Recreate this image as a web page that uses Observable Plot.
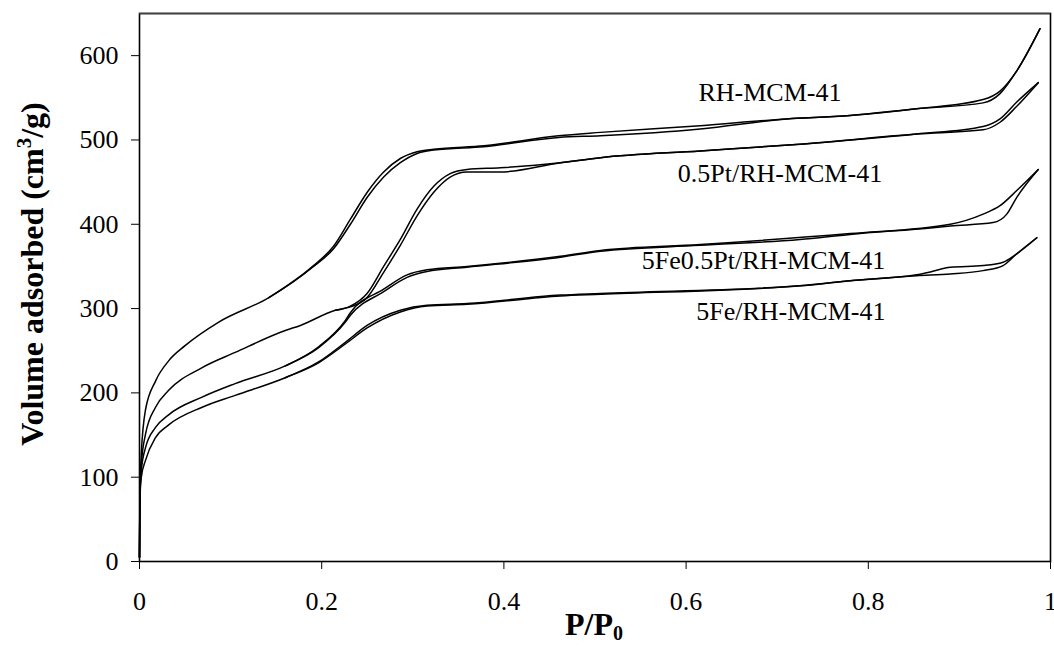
<!DOCTYPE html>
<html><head><meta charset="utf-8">
<script src="https://cdn.jsdelivr.net/npm/d3@7"></script>
<script src="https://cdn.jsdelivr.net/npm/@observablehq/plot@0.6"></script>
<style>body{margin:0;background:#fff} svg{display:block}</style>
</head><body><div id="chart"></div>
<script>
// ---- data (N2 isotherms; adsorption + desorption branches) ----
const sampleNames = ["RH-MCM-41", "0.5Pt/RH-MCM-41", "5Fe0.5Pt/RH-MCM-41", "5Fe/RH-MCM-41"];

const rhAdsX = [0, 0.0003, 0.001, 0.002, 0.0066, 0.0176, 0.032, 0.05, 0.087, 0.142, 0.19, 0.213, 0.2315, 0.25, 0.268, 0.2863, 0.3047, 0.323, 0.378, 0.46, 0.506, 0.6155, 0.71, 0.78, 0.853, 0.926, 0.9446, 0.963, 0.9885];
const rhAdsY = [5, 60, 100, 128, 180, 214, 238, 256, 284, 313, 349, 371, 400, 432, 456, 473, 484, 488, 492, 503, 505, 513, 525, 529, 537, 544, 555, 582, 632];
const rhDesX = [0.9885, 0.963, 0.9446, 0.926, 0.853, 0.78, 0.71, 0.6155, 0.506, 0.46, 0.378, 0.323, 0.3047, 0.2863, 0.268, 0.25, 0.2315, 0.213, 0.19, 0.142];
const rhDesY = [632, 582, 558, 548, 537, 529, 525, 517, 509, 505, 493, 489, 486, 478, 462, 438, 406, 374, 350, 313];

const ptAdsX = [0, 0.0003, 0.001, 0.002, 0.0066, 0.0176, 0.032, 0.0688, 0.105, 0.16, 0.1766, 0.215, 0.2315, 0.2498, 0.268, 0.2863, 0.3047, 0.323, 0.341, 0.3595, 0.396, 0.462, 0.506, 0.6155, 0.725, 0.853, 0.926, 0.9446, 0.963, 0.9866];
const ptAdsY = [5, 55, 95, 115, 151, 183, 203, 230, 248, 274, 280, 298, 302, 313, 343, 375, 410, 438, 456, 462, 462, 473, 479, 487, 495, 507, 512, 521, 540, 568];
const ptDesX = [0.9866, 0.963, 0.9446, 0.926, 0.853, 0.725, 0.6155, 0.506, 0.462, 0.396, 0.3595, 0.341, 0.323, 0.3047, 0.2863, 0.268, 0.2498, 0.2315, 0.215];
const ptDesY = [568, 545, 525, 516, 507, 495, 487, 479, 473, 467, 465, 460, 445, 418, 382, 350, 318, 303, 298];

const fePtAdsX = [0, 0.0003, 0.001, 0.002, 0.0066, 0.0176, 0.032, 0.0688, 0.105, 0.16, 0.197, 0.226, 0.2315, 0.268, 0.2937, 0.3156, 0.3595, 0.462, 0.506, 0.6155, 0.725, 0.78, 0.871, 0.89, 0.937, 0.952, 0.963, 0.9866];
const fePtAdsY = [5, 52, 92, 108, 135, 159, 174, 195, 211, 232, 254, 284, 292, 320, 337, 344, 349, 361, 368, 375, 382, 388, 396, 398, 402, 412, 432, 465];
const fePtDesX = [0.9866, 0.963, 0.9446, 0.926, 0.89, 0.78, 0.6155, 0.506, 0.462, 0.3595, 0.3156, 0.2937, 0.268, 0.2315, 0.226, 0.197, 0.16];
const fePtDesY = [465, 440, 422, 412, 400, 389, 376, 369, 362, 350, 346, 340, 323, 295, 286, 255, 232];

const feAdsX = [0, 0.0003, 0.001, 0.002, 0.0066, 0.0176, 0.032, 0.0688, 0.105, 0.16, 0.197, 0.226, 0.2498, 0.2863, 0.3156, 0.3595, 0.462, 0.506, 0.725, 0.78, 0.853, 0.89, 0.926, 0.948, 0.963, 0.985];
const feAdsY = [5, 50, 88, 100, 120, 147, 162, 183, 197, 218, 236, 258, 277, 296, 303, 305, 315, 317, 327, 333, 339, 341, 345, 351, 365, 384];
const feDesX = [0.985, 0.963, 0.948, 0.926, 0.89, 0.87, 0.853, 0.78, 0.725, 0.506, 0.462, 0.3595, 0.3156, 0.2863, 0.2498, 0.226, 0.197, 0.16];
const feDesY = [384, 365, 355, 351, 349, 344, 340, 333, 327, 318, 316, 306, 304, 298, 280, 260, 237, 218];

const labelX = [0.692, 0.703, 0.685, 0.715];
const labelY = [556, 460, 357, 296];

const xTicks = [0, 0.2, 0.4, 0.6, 0.8, 1];
const xTickLabels = ["0", "0.2", "0.4", "0.6", "0.8", "1"];
const yTicks = [0, 100, 200, 300, 400, 500, 600];

// ---- build table ----
const branches = [
  [sampleNames[0], "ads", rhAdsX, rhAdsY], [sampleNames[0], "des", rhDesX, rhDesY],
  [sampleNames[1], "ads", ptAdsX, ptAdsY], [sampleNames[1], "des", ptDesX, ptDesY],
  [sampleNames[2], "ads", fePtAdsX, fePtAdsY], [sampleNames[2], "des", fePtDesX, fePtDesY],
  [sampleNames[3], "ads", feAdsX, feAdsY], [sampleNames[3], "des", feDesX, feDesY]
];
const rows = [];
for (const [s, b, xs, ys] of branches) {
  const pts = xs.map((x, i) => ({key: s + "|" + b, x, y: ys[i]})).sort((a, c) => a.x - c.x);
  rows.push(...pts);
}
const labels = sampleNames.map((n, i) => ({n, x: labelX[i], y: labelY[i]}));

const serif = "'Liberation Serif', 'Times New Roman', Times, serif";

const svg = Plot.plot({
  width: 1054, height: 646,
  marginLeft: 139, marginRight: 4, marginTop: 13, marginBottom: 85,
  style: {fontFamily: serif, fontSize: "26px", color: "black", background: "white", overflow: "visible"},
  x: {domain: [0, 1]},
  y: {domain: [0, 650]},
  marks: [
    Plot.axisX({ticks: xTicks, tickFormat: (d, i) => xTickLabels[i], tickSize: 8, tickPadding: 22, label: null, fontSize: 26}),
    Plot.axisY({ticks: yTicks, tickSize: 8, tickPadding: 13, label: null, fontSize: 26}),
    Plot.line(rows, {x: "x", y: "y", z: "key", curve: "monotone-x", stroke: "black", strokeWidth: 1.5}),
    Plot.text(labels, {x: "x", y: "y", text: "n", fontSize: 26, fill: "black", textAnchor: "middle", lineAnchor: "middle"}),
    Plot.frame({stroke: "black", strokeWidth: 1.6}),
    Plot.ruleY([650], {stroke: "#444", strokeWidth: 1.6})
  ]
});

const s = d3.select(svg);
const yt = s.append("text")
  .attr("transform", "translate(43,274) rotate(-90)")
  .attr("text-anchor", "middle")
  .attr("font-family", serif).attr("font-weight", "bold").attr("font-size", 32).attr("fill", "black");
yt.append("tspan").text("Volume adsorbed (cm");
yt.append("tspan").attr("font-size", 21).attr("dy", -12).text("3");
yt.append("tspan").attr("dy", 12).text("/g)");

const xt = s.append("text")
  .attr("x", 594).attr("y", 635)
  .attr("text-anchor", "middle")
  .attr("font-family", serif).attr("font-weight", "bold").attr("font-size", 32).attr("fill", "black");
xt.append("tspan").text("P/P");
xt.append("tspan").attr("font-size", 20).attr("dy", 5).text("0");

document.getElementById("chart").appendChild(svg);
</script>
</body></html>
